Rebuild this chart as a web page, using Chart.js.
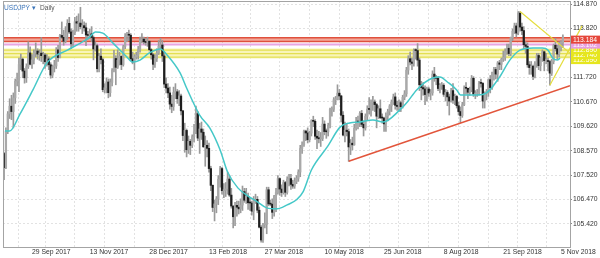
<!DOCTYPE html>
<html>
<head>
<meta charset="utf-8">
<script src="https://cdn.jsdelivr.net/npm/chart.js@4.4.0/dist/chart.umd.min.js"></script>
<style>
html, body { margin: 0; padding: 0; background: #fff; }
#wrap { width: 600px; height: 258px; }
</style>
</head>
<body>
<div id="wrap"><canvas id="chart" width="600" height="258"></canvas></div>
<script>
// USDJPY daily bars, 8 Sep 2017 .. 6 Nov 2018 (bar index = trading day)
var closes = [
  107.84,109.40,110.15,110.48,110.25,110.84,111.55,111.60,112.27,112.50,111.99,111.70,112.18,112.77,112.28,112.47,
  112.78,112.85,112.72,112.76,112.65,112.68,112.39,112.51,112.26,111.82,112.18,112.21,112.90,112.57,113.52,113.44,113.27,113.63,114.04,113.67,113.16,113.64,
  114.11,114.05,114.05,113.90,113.94,113.85,113.54,113.52,113.59,113.43,112.94,113.08,112.09,112.63,112.48,111.19,111.27,111.52,111.06,111.50,112.02,112.53,
  112.15,112.46,112.62,112.27,113.04,113.48,113.57,113.53,112.52,112.38,112.60,112.66,112.91,113.31,113.36,113.25,113.22,113.27,112.91,112.69,
  112.28,112.53,112.77,113.06,113.11,112.64,111.43,111.26,111.05,110.57,110.47,111.07,111.10,110.80,110.92,110.28,109.22,109.44,108.61,108.97,108.80,109.17,
  109.38,110.16,109.11,109.50,109.36,108.74,108.80,108.67,107.80,107.08,106.13,106.28,106.50,107.34,107.80,106.85,106.87,106.93,107.35,106.66,
  106.19,105.73,106.22,106.14,106.07,106.23,106.81,106.44,106.61,106.33,106.32,105.97,106.42,106.48,106.01,105.28,104.73,105.39,105.40,106.89,106.28,106.27,
  105.92,106.63,106.77,107.37,106.92,106.77,107.20,106.78,107.35,107.37,107.12,107.05,107.25,107.38,107.65,108.66,108.82,109.41,109.33,109.04,109.32,
  109.86,109.83,109.19,109.11,109.08,109.09,109.71,109.39,109.38,109.66,110.35,110.35,110.76,110.77,111.04,110.92,110.09,109.24,109.45,109.39,108.73,108.89,108.82,
  109.53,109.81,109.80,110.17,109.70,109.55,110.05,110.35,110.34,110.63,110.66,110.55,110.05,110.37,109.98,109.97,109.72,110.06,110.26,110.49,110.66,
  110.88,110.52,110.47,110.63,110.46,110.86,111.01,112.03,112.52,112.38,112.32,112.89,112.87,112.46,111.40,111.28,111.22,110.98,111.22,111.05,111.05,111.86,
  111.69,111.68,111.24,111.38,111.38,110.99,111.07,110.88,110.70,111.15,110.74,110.90,110.50,110.25,110.08,110.54,111.27,111.25,111.08,111.18,111.68,111.00,111.03,
  111.06,111.48,111.46,110.70,111.02,111.10,111.62,111.28,111.93,112.06,111.86,112.34,112.28,112.50,112.58,112.83,112.97,112.74,113.42,113.70,
  113.93,113.62,114.48,113.88,113.73,113.12,113.05,112.26,112.14,112.20,111.76,112.32,112.66,112.22,112.55,112.82,112.44,112.44,112.40,111.90,112.40,113.10,112.95,
  112.72,113.20,113.20,113.45
];
var highs = [
  108.50,109.55,110.25,110.80,110.95,111.05,111.65,111.90,112.55,112.72,112.55,112.10,112.30,113.25,113.03,112.70,
  112.90,113.20,112.95,112.90,113.43,112.80,112.75,112.70,112.60,112.35,112.25,112.45,113.00,113.10,113.57,114.10,113.75,113.90,114.20,114.30,113.80,113.75,
  114.30,114.35,114.45,114.73,114.20,114.10,114.05,113.70,113.80,113.90,113.50,113.25,113.15,112.75,112.95,112.55,111.45,111.70,111.65,111.65,112.10,112.88,
  112.65,112.90,112.80,112.65,113.10,113.60,113.65,113.75,113.60,112.80,112.70,112.80,113.05,113.45,113.60,113.45,113.40,113.45,113.30,112.95,
  112.75,112.70,112.95,113.30,113.40,113.30,112.80,111.70,111.45,111.30,110.95,111.30,111.45,111.20,111.15,111.00,110.30,109.75,109.50,109.20,109.05,109.25,
  109.70,110.48,110.25,109.75,109.80,109.50,109.20,109.00,108.90,107.90,107.10,106.45,106.60,107.50,107.90,107.85,107.15,107.20,107.65,107.50,
  106.95,106.20,106.35,106.40,106.40,106.50,107.05,106.95,106.95,106.75,106.55,106.40,106.60,106.70,106.60,106.15,105.35,105.45,105.90,107.00,107.00,106.45,
  106.50,106.65,106.95,107.50,107.40,107.10,107.30,107.25,107.45,107.55,107.55,107.30,107.40,107.50,107.75,108.80,108.95,109.45,109.45,109.55,109.40,
  109.90,110.05,109.90,109.45,109.40,109.35,110.00,109.85,109.50,109.75,110.40,110.45,110.85,110.90,111.40,111.20,110.95,110.25,109.80,109.70,109.50,109.05,109.15,
  109.70,110.00,110.05,110.25,110.30,109.85,110.15,110.50,110.85,110.75,110.90,110.75,110.60,110.50,110.75,110.15,110.00,110.20,110.35,110.55,110.75,
  111.00,111.05,110.70,110.75,110.70,110.95,111.15,112.15,112.65,112.80,112.55,112.95,112.95,113.17,112.55,111.55,111.50,111.35,111.30,111.30,111.20,112.00,
  112.15,111.80,111.75,111.45,111.50,111.45,111.20,111.15,111.00,111.25,111.45,111.00,110.95,110.65,110.45,110.65,111.35,111.50,111.25,111.30,111.80,111.75,111.15,
  111.20,111.55,111.65,111.50,111.10,111.20,111.65,111.80,111.95,112.15,112.15,112.40,112.45,112.55,112.85,112.95,113.15,113.15,113.45,113.80,
  114.05,114.05,114.55,114.55,114.05,113.90,113.25,113.20,112.40,112.40,112.25,112.40,112.75,112.75,112.60,112.90,112.85,112.75,112.55,112.45,112.50,113.15,113.40,
  113.10,113.25,113.30,113.55
];
var lows = [
  107.32,107.80,109.30,109.95,109.90,109.55,110.60,111.35,111.10,112.05,111.70,111.47,111.50,112.10,112.25,112.10,
  112.30,112.60,112.50,112.45,112.40,112.30,112.10,112.20,112.05,111.68,111.70,111.95,112.10,112.40,112.55,113.40,113.10,113.20,113.35,113.60,112.95,113.05,
  113.55,113.70,113.70,113.80,113.60,113.70,113.08,113.35,113.40,113.25,112.47,112.85,111.95,111.95,112.30,111.10,111.05,111.05,110.84,110.90,111.35,111.95,
  111.40,112.10,112.25,112.05,112.20,112.95,113.25,113.30,112.45,112.30,112.05,112.50,112.50,112.80,113.20,113.15,113.10,113.05,112.85,112.50,
  112.05,112.15,112.40,112.70,112.95,112.40,111.28,111.05,110.85,110.35,110.20,110.30,110.80,110.60,110.50,110.10,109.00,108.50,108.30,108.45,108.40,108.70,
  108.95,109.30,109.00,108.45,109.05,108.70,107.90,108.30,107.65,106.85,105.95,105.55,105.90,106.25,107.00,106.70,106.55,106.60,106.70,106.60,
  106.10,105.25,105.35,105.75,105.85,105.90,106.00,106.35,106.30,106.05,106.00,105.80,105.60,106.30,105.90,105.25,104.64,104.63,105.25,105.00,106.20,106.20,
  105.65,105.75,105.95,106.70,106.65,106.60,106.70,106.60,106.70,107.05,106.90,106.95,106.95,107.15,107.25,107.45,108.45,108.75,109.00,108.90,108.95,
  109.20,109.60,109.05,108.65,108.90,108.75,109.00,109.25,109.10,109.20,109.55,110.05,110.25,110.55,110.75,110.75,109.80,109.20,108.95,109.20,108.11,108.40,108.60,
  108.80,109.45,109.50,109.60,109.60,109.20,109.45,109.90,110.15,110.05,110.30,110.25,109.55,109.95,109.95,109.75,109.40,109.40,109.85,110.10,110.25,
  110.55,110.35,110.30,110.25,110.25,110.40,110.75,110.90,111.85,112.25,112.05,112.20,112.50,112.20,111.15,110.75,110.95,110.55,110.70,110.90,110.75,110.95,
  111.55,111.40,111.15,111.05,111.20,110.90,110.70,110.50,110.10,110.65,110.60,110.55,110.40,110.10,109.77,110.00,110.50,111.00,110.80,110.95,111.10,110.90,110.80,
  110.90,110.95,111.30,110.40,110.40,110.75,110.90,111.05,111.20,111.60,111.65,111.55,112.05,112.05,112.40,112.45,112.70,112.65,112.65,113.30,
  113.60,113.45,113.55,113.70,113.55,112.95,112.75,112.15,111.85,111.85,111.62,111.70,112.15,112.05,112.00,112.40,112.00,112.30,112.00,111.38,111.80,112.30,112.85,
  112.50,112.60,112.85,113.00
];
var firstOpen = 108.45;

// moving average (bar index, price)
var maBars = [0.5, 3, 8.6, 15.5, 23, 34, 41, 46, 49, 53, 58.5, 66, 69, 73, 78, 84, 87.5, 94.5, 98, 105, 110.5, 116, 120, 125.5, 131, 136, 141, 146.5, 152, 157, 160.5, 165, 173.5, 180.5, 185.5, 191, 198, 203.5, 212.5, 216.5, 221.5, 230, 234, 238, 243, 245, 254, 259, 266, 271.5, 277, 284, 289, 292, 294.5, 297, 298.5];
var maValues = [109.41, 109.41, 110.15, 111.18, 112.34, 112.89, 113.19, 113.45, 113.67, 113.62, 113.19, 112.59, 112.38, 112.46, 112.77, 112.94, 112.68, 111.91, 111.26, 110.10, 109.54, 108.60, 107.65, 106.97, 106.62, 106.37, 106.11, 106.07, 106.24, 106.46, 106.80, 107.74, 108.73, 109.59, 109.76, 109.80, 109.89, 109.80, 110.32, 110.66, 111.18, 111.69, 111.73, 111.52, 111.18, 110.96, 110.96, 111.05, 111.73, 112.46, 112.89, 112.98, 112.98, 112.89, 112.55, 112.46, 112.55];

// drawn objects: trend lines [bar, price] pairs
var redTrend = [[185, 108.11], [303.8, 111.36]];
var yellowUpper = [[277, 114.55], [308, 112.48]];
var yellowLower = [[293, 111.38], [310.3, 113.93]];

// horizontal levels
var redLevels = [113.42, 113.26];
var pinkLevel = 113.13;
var yellowLevels = [112.89, 112.74, 112.59];
var yellowBand = [112.96, 112.53];
var priceTags = ['113.184', '113.102', '112.890', '112.740', '112.590'];

// axes
var yTicks = [105.42, 106.47, 107.52, 108.57, 109.62, 110.67, 111.72, 112.77, 113.82, 114.87];
var xLabelBars = [15, 46, 78, 110, 140, 172, 204, 236, 268, 299];
var xLabels = ['29 Sep 2017', '13 Nov 2017', '28 Dec 2017', '13 Feb 2018', '27 Mar 2018', '10 May 2018', '25 Jun 2018', '8 Aug 2018', '21 Sep 2018', '5 Nov 2018'];
var xMinorBars = [30, 62, 94, 125, 156, 188, 220, 252, 283];

var symbolName = 'USDJPY';
var periodName = 'Daily';

if (highs.length !== closes.length || lows.length !== closes.length) {
  throw new Error('length mismatch ' + closes.length + ' ' + highs.length + ' ' + lows.length);
}

var X_MIN = -0.57, X_MAX = 303.82;
var FONT = 'Liberation Sans, Arial, sans-serif';

// daily open taken as the prior close
var opens = closes.map(function(c, i) { return i === 0 ? firstOpen : closes[i - 1]; });

var wickData = closes.map(function(c, i) { return { x: i, y: [lows[i], highs[i]] }; });
var bodyData = closes.map(function(c, i) { return { x: i, y: [opens[i], c] }; });
var bodyColors = closes.map(function(c, i) { return c >= opens[i] ? '#a9a9a9' : '#1e1e1e'; });

function pts(pairs) { return pairs.map(function(p) { return { x: p[0], y: p[1] }; }); }
function hline(v) { return [{ x: X_MIN, y: v }, { x: X_MAX, y: v }]; }
function levelLine(v, color, width) {
  return { type: 'line', data: hline(v), borderColor: color, borderWidth: width, pointRadius: 0, fill: false };
}

var overlay = {
  id: 'overlay',
  afterDraw: function(chart) {
    var ctx = chart.ctx, a = chart.chartArea, ys = chart.scales.y;
    ctx.save();
    // frame
    ctx.strokeStyle = '#a4a4a4';
    ctx.lineWidth = 1;
    ctx.strokeRect(a.left + 0.5, a.top + 0.5, a.right - a.left, a.bottom - a.top);

    // price tags on the right, kept 5px apart
    var anchors = [(redLevels[0] + redLevels[1]) / 2, pinkLevel].concat(yellowLevels);
    var colors = ['#e5463a', '#e79fe0', '#e6e61e', '#e6e61e', '#e6e61e'];
    var pos = [];
    anchors.forEach(function(v, i) {
      var y = ys.getPixelForValue(v);
      if (i > 0 && y < pos[i - 1] + 5) y = pos[i - 1] + 5;
      pos.push(y);
    });
    ctx.font = '6.8px ' + FONT;
    ctx.textBaseline = 'middle';
    ctx.textAlign = 'left';
    for (var i = anchors.length - 1; i >= 0; i--) {
      ctx.fillStyle = colors[i];
      ctx.fillRect(a.right + 1, pos[i] - 4, 30, 8);
      ctx.fillStyle = '#ffffff';
      ctx.fillText(priceTags[i], a.right + 3, pos[i] + 0.5);
    }

    // symbol caption
    ctx.font = '6.6px ' + FONT;
    ctx.textBaseline = 'alphabetic';
    ctx.fillStyle = '#3a73b8';
    ctx.fillText(symbolName, 4, 10);
    var w = ctx.measureText(symbolName).width;
    ctx.fillText('\u25BE', 4 + w + 2, 10);
    ctx.fillStyle = '#555555';
    ctx.fillText(periodName, 4 + w + 10, 10);
    ctx.restore();
  }
};

new Chart(document.getElementById('chart'), {
  type: 'bar',
  data: {
    datasets: [
      { type: 'line', data: pts(redTrend), borderColor: '#e2553b', borderWidth: 1.6, pointRadius: 0 },
      { type: 'line', data: pts(yellowUpper), borderColor: '#e4dd3c', borderWidth: 1.2, pointRadius: 0, clip: false },
      { type: 'line', data: pts(yellowLower), borderColor: '#e4dd3c', borderWidth: 1.2, pointRadius: 0, clip: false },
      { type: 'line', data: maBars.map(function(b, i) { return { x: b, y: maValues[i] }; }),
        borderColor: '#45c8c8', borderWidth: 1.5, pointRadius: 0, cubicInterpolationMode: 'monotone' },
      { data: bodyData, backgroundColor: bodyColors, barThickness: 1.6, grouped: false, minBarLength: 1 },
      { data: wickData, backgroundColor: '#9a9a9a', barThickness: 1, grouped: false },
      levelLine(redLevels[0], '#e0503c', 1.6),
      Object.assign(levelLine(redLevels[1], '#e0503c', 1.6), { fill: '-1', backgroundColor: '#f3a99a' }),
      levelLine(pinkLevel, '#e8a6e2', 2),
      levelLine(yellowLevels[0], '#e3df52', 1.2),
      levelLine(yellowLevels[1], '#e3df52', 1.2),
      levelLine(yellowLevels[2], '#e3df52', 1.2),
      levelLine(yellowBand[0], 'rgba(0,0,0,0)', 0),
      Object.assign(levelLine(yellowBand[1], 'rgba(0,0,0,0)', 0), { fill: '-1', backgroundColor: '#f8f5b8' })
    ]
  },
  options: {
    responsive: false,
    animation: false,
    events: [],
    layout: { padding: { left: 3, top: 1, right: 0, bottom: 0 } },
    plugins: { legend: { display: false }, tooltip: { enabled: false } },
    scales: {
      x: {
        type: 'linear', min: X_MIN, max: X_MAX, offset: false,
        grid: { color: '#e2e2e2', drawTicks: false },
        border: { display: false, dash: [2, 2] },
        afterBuildTicks: function(s) {
          s.ticks = xLabelBars.concat(xMinorBars).sort(function(p, q) { return p - q; })
            .map(function(v) { return { value: v }; });
        },
        afterFit: function(s) { s.height = 11; s.paddingLeft = 0; s.paddingRight = 0; },
        ticks: {
          autoSkip: false, maxRotation: 0, minRotation: 0, align: 'start', padding: 1,
          color: '#333', font: { family: FONT, size: 6.8 },
          callback: function(v) { var k = xLabelBars.indexOf(v); return k >= 0 ? xLabels[k] : ''; }
        }
      },
      y: {
        position: 'right', min: 104.43, max: 115.0,
        grid: { color: '#e2e2e2', tickLength: 2, tickColor: '#888' },
        border: { display: false, dash: [2, 2] },
        afterBuildTicks: function(s) { s.ticks = yTicks.map(function(v) { return { value: v }; }); },
        afterFit: function(s) { s.width = 30; s.paddingTop = 0; s.paddingBottom = 0; },
        ticks: {
          padding: 1, color: '#333', font: { family: FONT, size: 6.8 },
          callback: function(v) { return Number(v).toFixed(3); }
        }
      }
    }
  },
  plugins: [overlay]
});
</script>
</body>
</html>
